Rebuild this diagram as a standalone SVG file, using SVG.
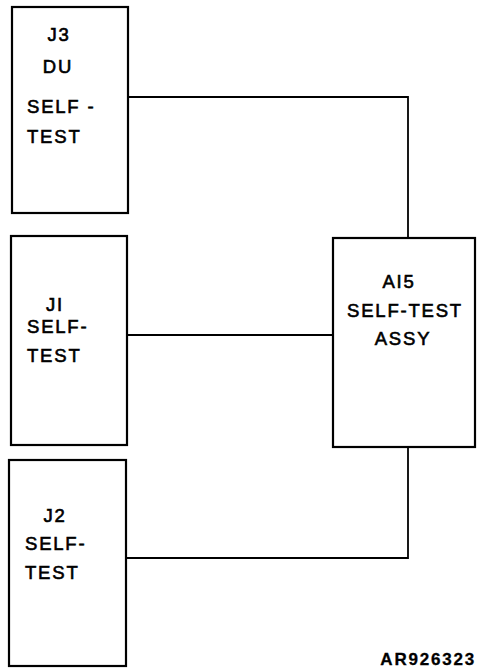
<svg xmlns="http://www.w3.org/2000/svg" width="482" height="668" viewBox="0 0 482 668">
<style>
.box{fill:#fff;stroke:#000;stroke-width:2.2}
.ln{fill:none;stroke:#000;stroke-width:1.8}
text{font-family:"Liberation Sans",Arial,sans-serif;font-size:18.5px;fill:#000;stroke:#000;stroke-width:0.6;letter-spacing:1.8px}
.id{font-size:17px;font-weight:bold;stroke-width:0.3;letter-spacing:1.8px}
</style>
<rect width="482" height="668" fill="#fff"/>
<g id="connectors">
<polyline class="ln" points="128,97 408,97 408,238"/>
<line class="ln" x1="127" y1="335" x2="333" y2="335"/>
<polyline class="ln" points="126,558 408,558 408,447"/>
</g>
<g id="j3">
<rect class="box" x="12" y="7" width="116" height="206"/>
<text x="59" y="41" text-anchor="middle">J3</text>
<text x="58" y="73" text-anchor="middle">DU</text>
<text x="27" y="113">SELF -</text>
<text x="27" y="143">TEST</text>
</g>
<g id="j1">
<rect class="box" x="11" y="236" width="116" height="209"/>
<text x="55" y="311" text-anchor="middle">JI</text>
<text x="27" y="333">SELF-</text>
<text x="27" y="362">TEST</text>
</g>
<g id="j2">
<rect class="box" x="9" y="460" width="117" height="206"/>
<text x="55" y="522" text-anchor="middle">J2</text>
<text x="25" y="550">SELF-</text>
<text x="25" y="579">TEST</text>
</g>
<g id="a15">
<rect class="box" x="333" y="238" width="142" height="209"/>
<text x="399" y="288" text-anchor="middle">AI5</text>
<text x="405" y="317" text-anchor="middle">SELF-TEST</text>
<text x="403" y="345" text-anchor="middle">ASSY</text>
</g>
<text class="id" x="476" y="665" text-anchor="end">AR926323</text>
</svg>
